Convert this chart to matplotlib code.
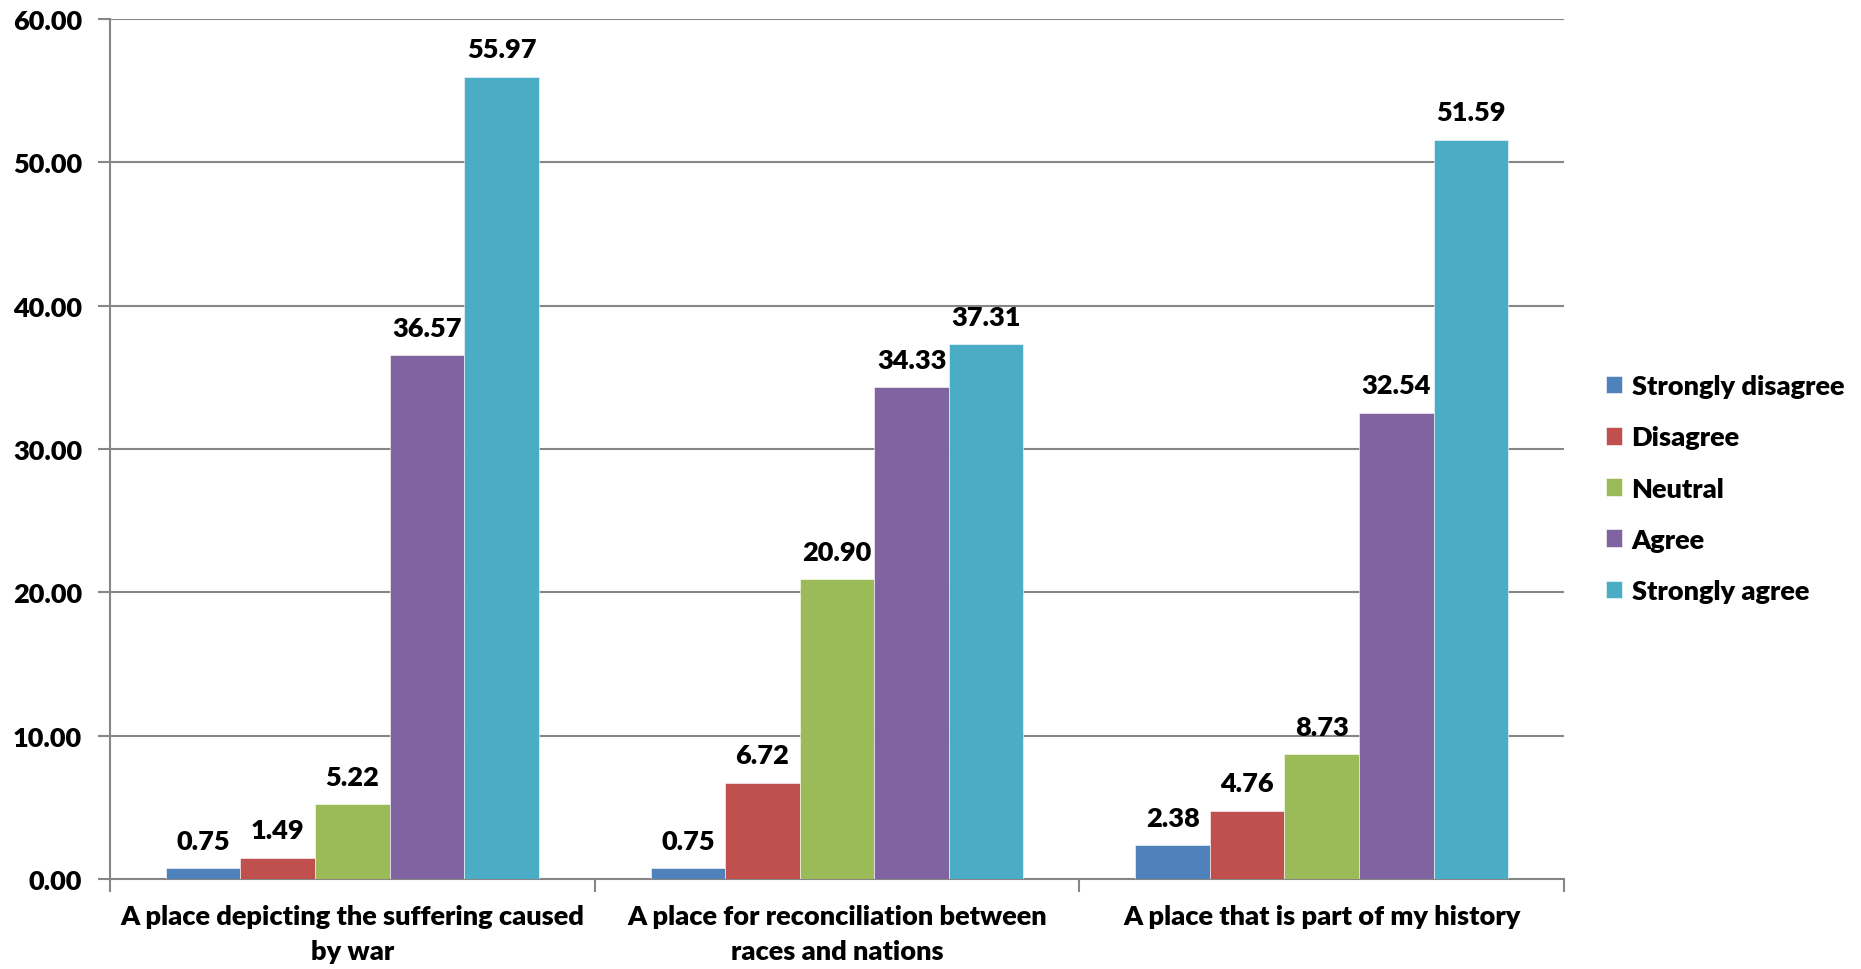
import matplotlib.pyplot as plt
import numpy as np

plt.rcParams['font.family'] = ['Lato', 'DejaVu Sans']
plt.rcParams['font.weight'] = 'heavy'

categories = ['A place depicting the suffering caused\nby war',
              'A place for reconciliation between\nraces and nations',
              'A place that is part of my history']
series = ['Strongly disagree', 'Disagree', 'Neutral', 'Agree', 'Strongly agree']
strongly_disagree = [0.75, 0.75, 2.38]
disagree = [1.49, 6.72, 4.76]
neutral = [5.22, 20.90, 8.73]
agree = [36.57, 34.33, 32.54]
strongly_agree = [55.97, 37.31, 51.59]
colors = ['#4F81BD', '#C0504D', '#9BBB59', '#8064A2', '#4BACC6']
yticks = [0, 10, 20, 30, 40, 50, 60]

values = [strongly_disagree, disagree, neutral, agree, strongly_agree]
fs = 19.5

fig = plt.figure(figsize=(18.61, 9.70), dpi=100)
ax = fig.add_axes([110 / 1861, 90 / 970, 1454 / 1861, 860 / 970])

x = np.arange(len(categories))
w = 1 / 1.3 / len(series)
for i, (name, vals) in enumerate(zip(series, values)):
    bars = ax.bar(x + (i - 2) * w, vals, w, color=colors[i], label=name,
                  edgecolor='white', linewidth=0.4, zorder=3)
    ax.bar_label(bars, fmt='%.2f', padding=11, fontsize=fs, fontweight='heavy')

ax.set_xlim(-0.5, len(categories) - 0.5)
ax.set_ylim(0, 60)
ax.set_yticks(yticks)
ax.set_yticklabels(['%.2f' % t for t in yticks], fontsize=fs, fontweight='heavy')
ax.yaxis.grid(True, color='#868686', linewidth=1.5, zorder=0)

ax.set_xticks(x)
ax.set_xticklabels(categories, fontsize=fs, fontweight='heavy', linespacing=1.55)
ax.tick_params(axis='x', length=0, pad=18)
ax.set_xticks(np.arange(len(categories) + 1) - 0.5, minor=True)
ax.tick_params(axis='x', which='minor', length=9, width=1.5, color='#868686')
ax.tick_params(axis='y', length=9, width=1.5, color='#868686', pad=11)

for s in ['top', 'right']:
    ax.spines[s].set_visible(False)
for s in ['left', 'bottom']:
    ax.spines[s].set_color('#868686')
    ax.spines[s].set_linewidth(1.5)

ax.legend(loc='center left', bbox_to_anchor=(1.012, 0.454), frameon=False,
          fontsize=fs, handlelength=0.6, handleheight=0.6, handletextpad=0.35,
          labelspacing=1.0)

fig.savefig('out.png', dpi=100)
